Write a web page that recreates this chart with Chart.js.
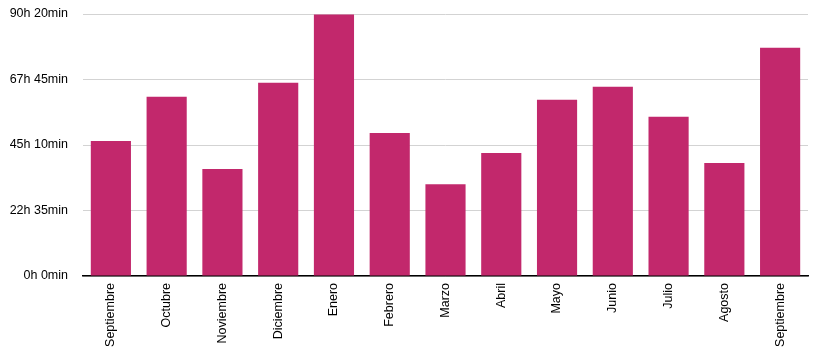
<!DOCTYPE html>
<html>
<head>
<meta charset="utf-8">
<script src="https://cdn.jsdelivr.net/npm/chart.js@4"></script>
<style>
  html, body { margin: 0; padding: 0; background: #fff; }
  #wrap { width: 816px; height: 360px; }
</style>
</head>
<body>
<div id="wrap"><canvas id="chart" width="816" height="360"></canvas></div>
<script>
// meses (categorias) e valores em minutos
const meses = ["Septiembre", "Octubre", "Noviembre", "Diciembre", "Enero", "Febrero",
  "Marzo", "Abril", "Mayo", "Junio", "Julio", "Agosto", "Septiembre"];
const minutos = [2793, 3707, 2212, 3997, 5410, 2959, 1900, 2544, 3645, 3914, 3292, 2336, 4724];
const ticksMinutos = [0, 1355, 2710, 4065, 5420];

function formatoHoras(v) { // minutos -> "Xh Ymin"
  const h = Math.floor(v / 60);
  const m = Math.round(v - h * 60);
  return h + "h " + m + "min";
}

Chart.defaults.font.family = "'Liberation Sans', Arial, Helvetica, sans-serif";
Chart.defaults.font.size = 12.5;
Chart.defaults.color = "#000";

const data = {
  labels: meses,
  datasets: [{
    data: minutos,
    backgroundColor: "#c2286c",
    borderWidth: 0,
    categoryPercentage: 0.72,
    barPercentage: 1.0
  }]
};

const config = {
  type: "bar",
  data: data,
  options: {
    responsive: false,
    animation: false,
    layout: { padding: { top: 14, right: 8, left: 0, bottom: 0 } },
    plugins: { legend: { display: false }, tooltip: { enabled: false } },
    scales: {
      x: {
        grid: { display: false, drawTicks: false },
        border: { display: true, color: "#000", width: 1.5 },
        ticks: {
          autoSkip: false,
          minRotation: 90,
          maxRotation: 90,
          padding: 7
        },
        afterFit: function (scale) { scale.height = 84; }
      },
      y: {
        min: 0,
        max: ticksMinutos[ticksMinutos.length - 1],
        border: { display: false },
        grid: { color: "#d3d3d3", lineWidth: 1, drawTicks: false },
        afterBuildTicks: function (scale) {
          scale.ticks = ticksMinutos.map(v => ({ value: v }));
        },
        ticks: {
          padding: 15,
          callback: function (v) { return formatoHoras(v); }
        },
        afterFit: function (scale) {
          scale.width = 83;
          scale.paddingTop = 0; // o padding dos ticks nao empurra o topo
          scale.paddingBottom = 0;
        }
      }
    }
  }
};

let myChart = new Chart(document.getElementById("chart"), config);
</script>
</body>
</html>
